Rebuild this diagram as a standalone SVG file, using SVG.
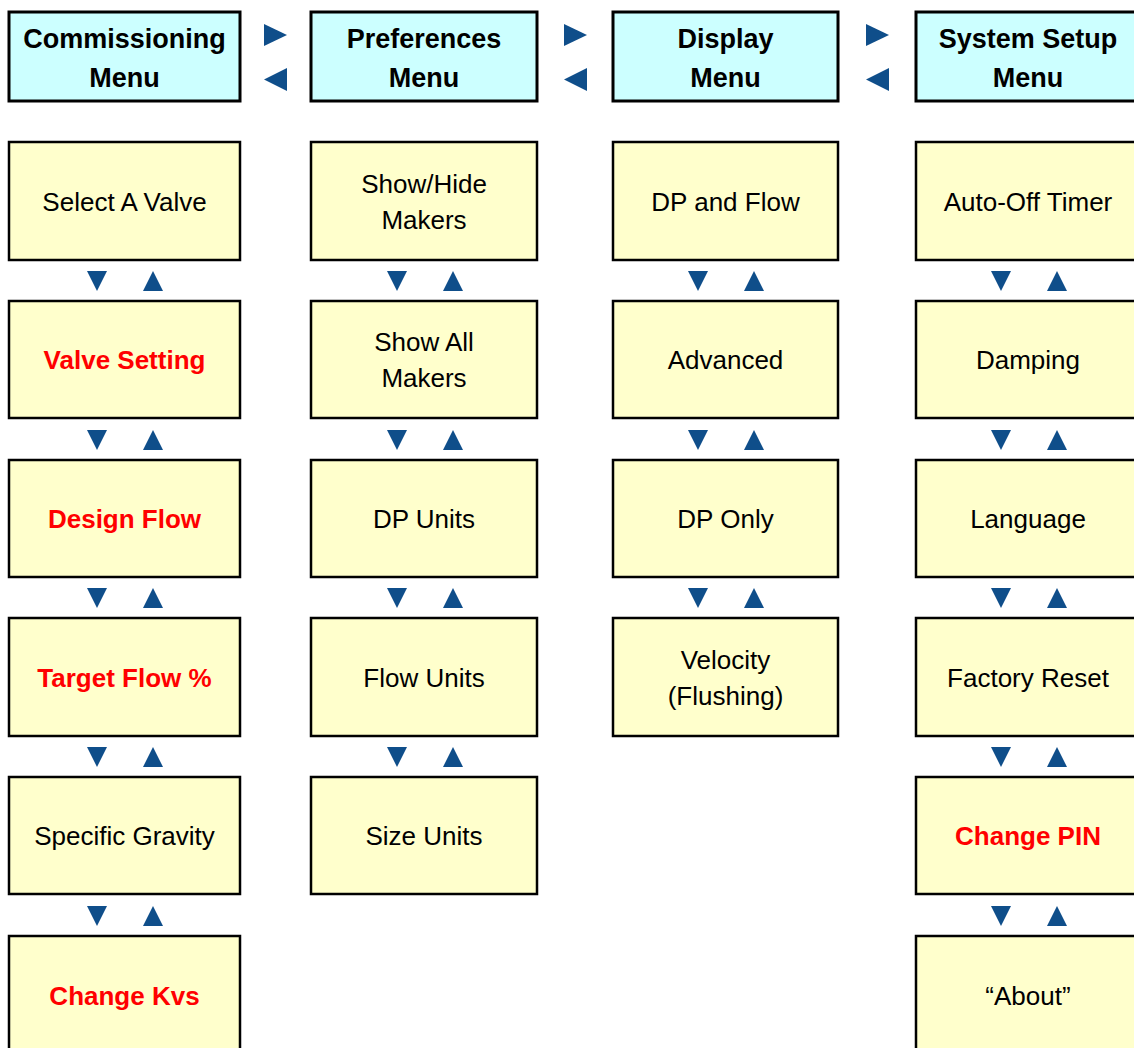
<svg xmlns="http://www.w3.org/2000/svg" width="1134" height="1048" viewBox="0 0 1134 1048">
<style>
.hdr{fill:#CCFFFF;stroke:#000;stroke-width:3}
.box{fill:#FFFFCC;stroke:#000;stroke-width:2.5}
.ht{font-family:"Liberation Sans",Arial,sans-serif;font-weight:bold;font-size:27px;fill:#000;text-anchor:middle}
.bt{font-family:"Liberation Sans",Arial,sans-serif;font-size:26px;fill:#000;text-anchor:middle}
.rt{font-family:"Liberation Sans",Arial,sans-serif;font-size:26px;font-weight:bold;fill:#FF0000;text-anchor:middle}
.tri{fill:#0F4E8A}
</style>
<rect width="1134" height="1048" fill="#fff"/>
<g id="connectors">
<polygon class="tri" points="264,24 264,46 287,35"/>
<polygon class="tri" points="287,68 287,91 264,79.5"/>
<polygon class="tri" points="564,24 564,46 587,35"/>
<polygon class="tri" points="587,68 587,91 564,79.5"/>
<polygon class="tri" points="866,24 866,46 889,35"/>
<polygon class="tri" points="889,68 889,91 866,79.5"/>
<g transform="translate(0,0)">
<polygon class="tri" points="87,271 107,271 97,291"/><polygon class="tri" points="143,291 163,291 153,271"/>
<polygon class="tri" points="87,430 107,430 97,450"/><polygon class="tri" points="143,450 163,450 153,430"/>
<polygon class="tri" points="87,588 107,588 97,608"/><polygon class="tri" points="143,608 163,608 153,588"/>
<polygon class="tri" points="87,747 107,747 97,767"/><polygon class="tri" points="143,767 163,767 153,747"/>
<polygon class="tri" points="87,906 107,906 97,926"/><polygon class="tri" points="143,926 163,926 153,906"/>
</g>
<g transform="translate(300,0)">
<polygon class="tri" points="87,271 107,271 97,291"/><polygon class="tri" points="143,291 163,291 153,271"/>
<polygon class="tri" points="87,430 107,430 97,450"/><polygon class="tri" points="143,450 163,450 153,430"/>
<polygon class="tri" points="87,588 107,588 97,608"/><polygon class="tri" points="143,608 163,608 153,588"/>
<polygon class="tri" points="87,747 107,747 97,767"/><polygon class="tri" points="143,767 163,767 153,747"/>
</g>
<g transform="translate(601,0)">
<polygon class="tri" points="87,271 107,271 97,291"/><polygon class="tri" points="143,291 163,291 153,271"/>
<polygon class="tri" points="87,430 107,430 97,450"/><polygon class="tri" points="143,450 163,450 153,430"/>
<polygon class="tri" points="87,588 107,588 97,608"/><polygon class="tri" points="143,608 163,608 153,588"/>
</g>
<g transform="translate(904,0)">
<polygon class="tri" points="87,271 107,271 97,291"/><polygon class="tri" points="143,291 163,291 153,271"/>
<polygon class="tri" points="87,430 107,430 97,450"/><polygon class="tri" points="143,450 163,450 153,430"/>
<polygon class="tri" points="87,588 107,588 97,608"/><polygon class="tri" points="143,608 163,608 153,588"/>
<polygon class="tri" points="87,747 107,747 97,767"/><polygon class="tri" points="143,767 163,767 153,747"/>
<polygon class="tri" points="87,906 107,906 97,926"/><polygon class="tri" points="143,926 163,926 153,906"/>
</g>
</g>
<g id="h-commissioning"><rect class="hdr" x="9" y="12" width="231" height="89"/><text class="ht" x="124.5" y="48">Commissioning</text><text class="ht" x="124.5" y="87">Menu</text></g>
<g id="h-preferences"><rect class="hdr" x="311" y="12" width="226" height="89"/><text class="ht" x="424" y="48">Preferences</text><text class="ht" x="424" y="87">Menu</text></g>
<g id="h-display"><rect class="hdr" x="613" y="12" width="225" height="89"/><text class="ht" x="725.5" y="48">Display</text><text class="ht" x="725.5" y="87">Menu</text></g>
<g id="h-system"><rect class="hdr" x="916" y="12" width="226" height="89"/><text class="ht" x="1028" y="48">System Setup</text><text class="ht" x="1028" y="87">Menu</text></g>
<g id="c1-select"><rect class="box" x="9" y="142" width="231" height="118"/><text class="bt" x="124.5" y="211">Select A Valve</text></g>
<g id="c1-valve"><rect class="box" x="9" y="301" width="231" height="117"/><text class="rt" x="124.5" y="369">Valve Setting</text></g>
<g id="c1-design"><rect class="box" x="9" y="460" width="231" height="117"/><text class="rt" x="124.5" y="528">Design Flow</text></g>
<g id="c1-target"><rect class="box" x="9" y="618" width="231" height="118"/><text class="rt" x="124.5" y="687">Target Flow %</text></g>
<g id="c1-gravity"><rect class="box" x="9" y="777" width="231" height="117"/><text class="bt" x="124.5" y="845">Specific Gravity</text></g>
<g id="c1-kvs"><rect class="box" x="9" y="936" width="231" height="130"/><text class="rt" x="124.5" y="1005">Change Kvs</text></g>
<g id="c2-showhide"><rect class="box" x="311" y="142" width="226" height="118"/><text class="bt" x="424" y="193">Show/Hide</text><text class="bt" x="424" y="229">Makers</text></g>
<g id="c2-showall"><rect class="box" x="311" y="301" width="226" height="117"/><text class="bt" x="424" y="351">Show All</text><text class="bt" x="424" y="387">Makers</text></g>
<g id="c2-dpunits"><rect class="box" x="311" y="460" width="226" height="117"/><text class="bt" x="424" y="528">DP Units</text></g>
<g id="c2-flowunits"><rect class="box" x="311" y="618" width="226" height="118"/><text class="bt" x="424" y="687">Flow Units</text></g>
<g id="c2-sizeunits"><rect class="box" x="311" y="777" width="226" height="117"/><text class="bt" x="424" y="845">Size Units</text></g>
<g id="c3-dpflow"><rect class="box" x="613" y="142" width="225" height="118"/><text class="bt" x="725.5" y="211">DP and Flow</text></g>
<g id="c3-advanced"><rect class="box" x="613" y="301" width="225" height="117"/><text class="bt" x="725.5" y="369">Advanced</text></g>
<g id="c3-dponly"><rect class="box" x="613" y="460" width="225" height="117"/><text class="bt" x="725.5" y="528">DP Only</text></g>
<g id="c3-velocity"><rect class="box" x="613" y="618" width="225" height="118"/><text class="bt" x="725.5" y="669">Velocity</text><text class="bt" x="725.5" y="705">(Flushing)</text></g>
<g id="c4-timer"><rect class="box" x="916" y="142" width="226" height="118"/><text class="bt" x="1028" y="211">Auto-Off Timer</text></g>
<g id="c4-damping"><rect class="box" x="916" y="301" width="226" height="117"/><text class="bt" x="1028" y="369">Damping</text></g>
<g id="c4-language"><rect class="box" x="916" y="460" width="226" height="117"/><text class="bt" x="1028" y="528">Language</text></g>
<g id="c4-reset"><rect class="box" x="916" y="618" width="226" height="118"/><text class="bt" x="1028" y="687">Factory Reset</text></g>
<g id="c4-pin"><rect class="box" x="916" y="777" width="226" height="117"/><text class="rt" x="1028" y="845">Change PIN</text></g>
<g id="c4-about"><rect class="box" x="916" y="936" width="226" height="130"/><text class="bt" x="1028" y="1005">“About”</text></g>
</svg>
